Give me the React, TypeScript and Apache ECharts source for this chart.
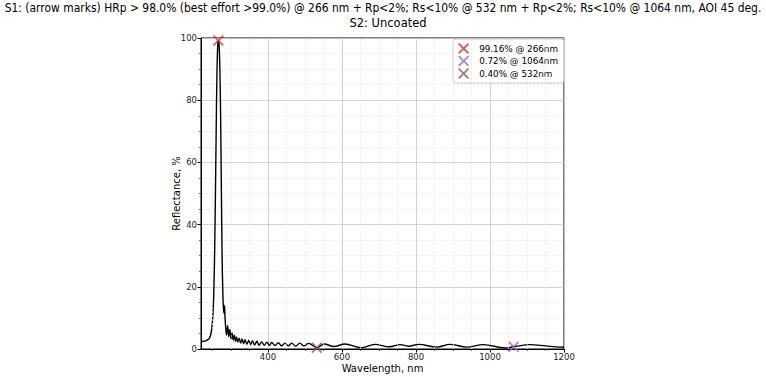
import React, { useEffect, useRef } from "react";
import * as echarts from "echarts";

const titleLine1 =
  "S1: (arrow marks) HRp > 98.0% (best effort >99.0%) @ 266 nm + Rp<2%; Rs<10% @ 532 nm + Rp<2%; Rs<10% @ 1064 nm, AOI 45 deg.";
const titleLine2 = "S2: Uncoated";

const wavelengths = [
  219, 226, 232, 237, 241, 245, 248, 250, 252, 254, 256, 258, 260, 262, 264, 266, 268, 270, 272, 274, 276, 278,
  279.5, 281, 282.5, 284, 286, 288, 291, 294, 297, 300, 303, 306, 309, 312, 315, 318, 322, 326, 330, 334, 338,
  343, 348, 353, 358, 364, 370, 376, 383, 390, 397, 404, 410, 419, 428, 437, 446, 455, 464, 475, 486, 497, 510,
  532, 552, 578, 608, 652, 689, 728, 757, 780, 808, 856, 892, 937, 982, 1041, 1064, 1108, 1150, 1189, 1200,
];
const reflectance = [
  2.4, 2.5, 2.6, 3.0, 3.3, 4.5, 6.5, 9, 13, 20, 32, 50, 70, 88, 97, 99.16, 97.5, 90, 75, 52, 30, 18,
  13.5, 11.5, 14, 10, 6.5, 4.5, 7.5, 4, 6.3, 3.3, 5.2, 2.9, 4.4, 2.5, 3.9, 2.2, 3.5, 1.9, 3.2, 1.7, 3.0,
  1.5, 2.8, 1.4, 2.6, 1.3, 2.5, 1.2, 2.3, 1.2, 2.2, 1.1, 2.1, 1.1, 2.0, 1.0, 1.9, 1.0, 1.9, 0.9, 1.9, 1.0, 1.8,
  0.4, 1.6, 0.8, 1.6, 0.4, 1.5, 0.7, 1.4, 0.9, 1.5, 0.6, 1.5, 0.6, 1.4, 0.35, 0.72, 1.4, 1.0, 0.6, 0.65,
];

const markerNames = ["99.16% @ 266nm", "0.72% @ 1064nm", "0.40% @ 532nm"];
const markerWl = [266, 1064, 532];
const markerR = [99.16, 0.72, 0.4];
const markerColors = ["#d62728", "#9467bd", "#8c564b"];

const xMajorTicks = [400, 600, 800, 1000, 1200];
const xMinorTicks = [250, 300, 350, 450, 500, 550, 650, 700, 750, 850, 900, 950, 1050, 1100, 1150];
const xMin = 219;
const xMax = 1200;
const yMin = 0;
const yMax = 100;
const yInterval = 20;

const X_PATH =
  "path://M0,1.1L1.1,0L5,3.9L8.9,0L10,1.1L6.1,5L10,8.9L8.9,10L5,6.1L1.1,10L0,8.9L3.9,5Z";

const FONT = "DejaVu Sans";

export default function App() {
  const ref = useRef<HTMLDivElement>(null);
  useEffect(() => {
    if (!ref.current) return;
    const chart = echarts.init(ref.current, null, { renderer: "svg" });
    const curve = wavelengths.map((w, i) => [w, reflectance[i]]);
    const option: any = {
      animation: false,
      backgroundColor: "#fff",
      textStyle: { fontFamily: FONT },
      title: {
        text: titleLine2,
        left: 383,
        textAlign: "center",
        top: 12,
        textStyle: { fontFamily: FONT, fontSize: 11.5, fontWeight: "normal", color: "#000" },
      },
      graphic: [
        {
          type: "text",
          x: 383,
          y: 8,
          scaleX: 0.86,
          style: {
            text: titleLine1,
            fontFamily: FONT,
            fontSize: 12.5,
            fill: "#000",
            textAlign: "center",
            textVerticalAlign: "middle",
          },
        },
      ],
      grid: {
        left: 201,
        right: 202,
        top: 38,
        bottom: 28,
        outerBoundsMode: "none",
        containLabel: false,
        show: true,
        borderColor: "#000",
        borderWidth: 1,
        backgroundColor: "transparent",
      },
      legend: {
        orient: "vertical",
        right: 202,
        top: 39,
        itemWidth: 11,
        itemHeight: 11,
        itemGap: 1.5,
        padding: [4, 6, 4, 5],
        borderColor: "#ccc",
        borderWidth: 1,
        borderRadius: 3,
        backgroundColor: "rgba(255,255,255,0.85)",
        data: markerNames.map((n) => ({ name: n, icon: X_PATH })),
        textStyle: { fontFamily: FONT, fontSize: 8.8, color: "#000", padding: [0, 0, 0, 5] },
      },
      xAxis: [
        {
          type: "value",
          min: xMin,
          max: xMax,
          interval: 200,
          name: "Wavelength, nm",
          nameLocation: "middle",
          nameGap: 14.5,
          nameMoveOverlap: false,
          nameTextStyle: { fontFamily: FONT, fontSize: 10, color: "#000" },
          axisLine: { show: true, onZero: false, lineStyle: { color: "#000", width: 1 } },
          axisTick: { show: true, length: 3.5, customValues: xMajorTicks, lineStyle: { color: "#000" } },
          axisLabel: {
            customValues: xMajorTicks,
            formatter: (v: number) => String(v),
            margin: 3,
            fontFamily: FONT,
            fontSize: 8.5,
            color: "#222",
          },
          splitLine: { show: true, lineStyle: { color: "#c8c8c8", width: 0.8 } },
        },
        {
          type: "value",
          min: xMin,
          max: xMax,
          position: "bottom",
          axisLine: { show: false },
          axisTick: { show: true, length: 2, customValues: xMinorTicks, lineStyle: { color: "#000", width: 0.6 } },
          axisLabel: { show: false },
          splitLine: { show: false },
        },
      ],
      yAxis: {
        type: "value",
        min: yMin,
        max: yMax,
        interval: yInterval,
        name: "Reflectance, %",
        nameLocation: "middle",
        nameGap: 20,
        nameMoveOverlap: false,
        nameTextStyle: { fontFamily: FONT, fontSize: 10, color: "#000" },
        axisLine: { show: true, lineStyle: { color: "#000", width: 1 } },
        axisTick: { show: true, length: 3.5, lineStyle: { color: "#000" } },
        minorTick: { show: true, splitNumber: 4, length: 2, lineStyle: { color: "#000", width: 0.6 } },
        axisLabel: { margin: 4, fontFamily: FONT, fontSize: 8.5, color: "#222" },
        splitLine: { show: true, lineStyle: { color: "#c8c8c8", width: 0.8 } },
        minorSplitLine: { show: true, lineStyle: { color: "#e2e2e2", width: 0.7, type: [2, 2] } },
      },
      series: [
        {
          type: "line",
          name: "minorgrid",
          xAxisIndex: 0,
          data: [],
          z: 1,
          silent: true,
          markLine: {
            silent: true,
            symbol: ["none", "none"],
            label: { show: false },
            lineStyle: { color: "#e2e2e2", width: 0.7, type: [2, 2] },
            data: xMinorTicks.map((v) => ({ xAxis: v })),
          },
        },
        {
          type: "line",
          name: "S1",
          data: curve,
          showSymbol: false,
          smooth: 0.35,
          z: 3,
          lineStyle: { color: "#000", width: 1.4 },
        },
        ...markerNames.map((n, i) => ({
          type: "scatter",
          name: n,
          data: [[markerWl[i], markerR[i]]],
          symbol: X_PATH,
          symbolSize: 11,
          z: 5,
          itemStyle: { color: markerColors[i] },
          clip: false,
        })),
      ],
    };
    chart.setOption(option);
    return () => chart.dispose();
  }, []);
  return (
    <div
      ref={ref}
      style={{ position: "fixed", left: 0, top: 0, width: 766, height: 377 }}
    />
  );
}
